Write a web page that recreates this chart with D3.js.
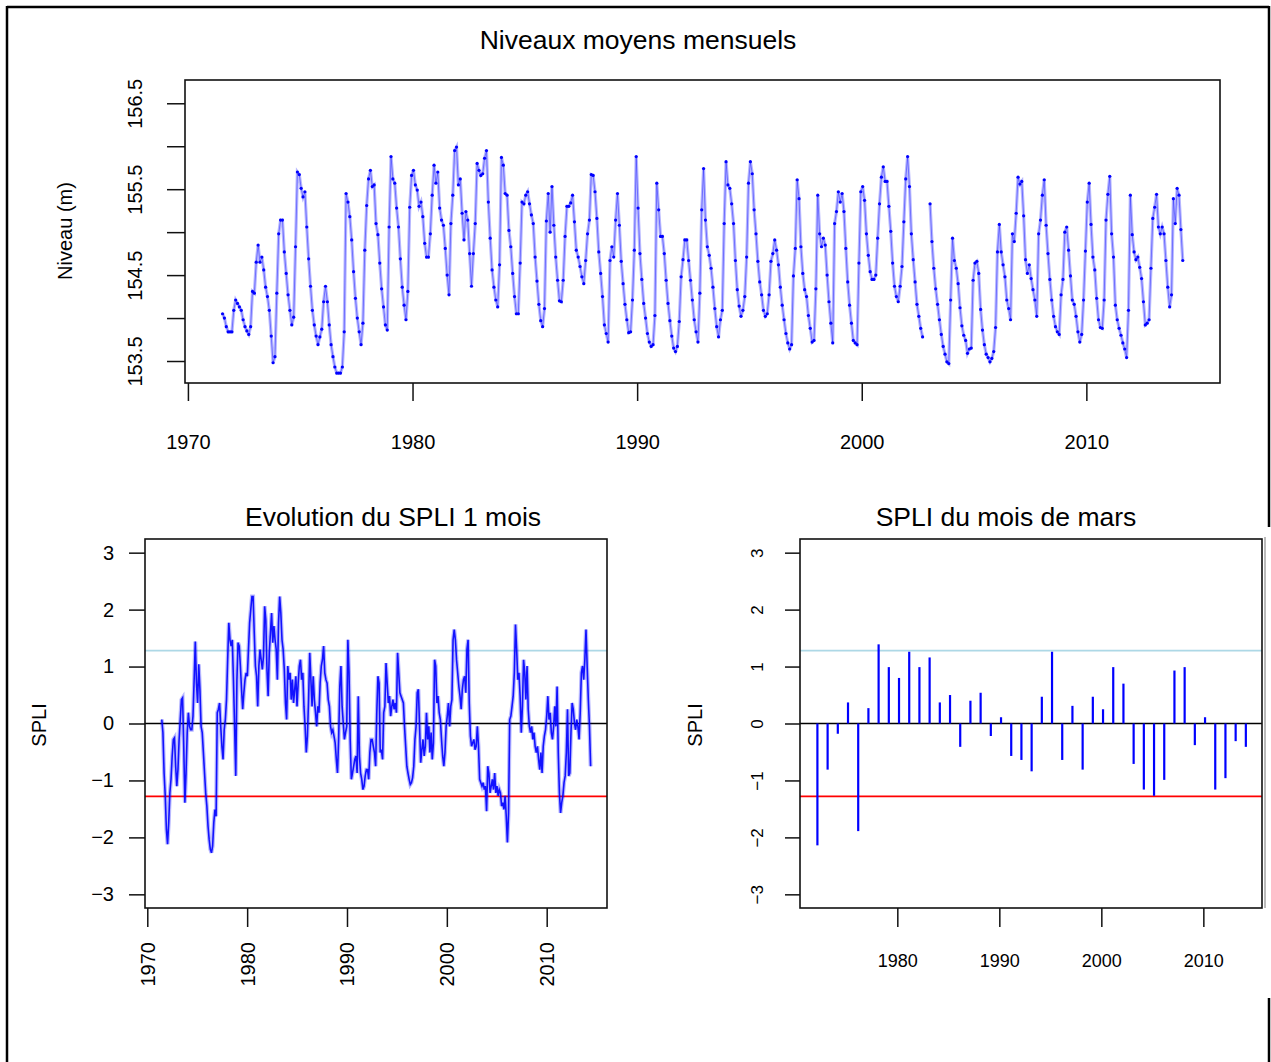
<!DOCTYPE html>
<html>
<head>
<meta charset="utf-8">
<script src="https://cdn.jsdelivr.net/npm/d3@7"></script>
<style>
body { margin: 0; background: #fff; }
text { font-family: "Liberation Sans", Arial, sans-serif; fill: #000; }
</style>
</head>
<body>
<div id="chart"></div>
<script>
var w = 1271;
var h = 1062;

// niveaux moyens mensuels (m), premier mois = juillet 1971, null = pas de mesure
var levelStart = 1971 + 6.5 / 12;
var levels = [
  154.05, 154.00, 153.90, 153.84, 153.84, 153.84,
  154.09, 154.21, 154.17, 154.13, 154.09, 153.98, 153.90, 153.85, 153.81, 153.90, 154.31, 154.29,
  154.65, 154.85, 154.65, 154.71, 154.56, 154.36, 154.25, 154.09, 153.79, 153.48, 153.55, 154.29,
  154.98, 155.14, 155.14, 154.77, 154.52, 154.27, 154.09, 153.92, 154.01, 154.83, 155.70, 155.67,
  155.51, 155.41, 155.47, 155.06, 154.69, 154.37, 154.09, 153.92, 153.79, 153.69, 153.78, 153.87,
  154.19, 154.37, 154.19, 153.92, 153.69, 153.55, 153.43, 153.36, 153.36, 153.36, 153.43, 153.84,
  155.45, 155.35, 155.18, 154.91, 154.54, 154.23, 154.00, 153.84, 153.69, 153.94, 154.79, 155.31,
  155.62, 155.72, 155.53, 155.55, 155.10, 154.97, 154.64, 154.34, 154.13, 153.92, 153.86, 155.06,
  155.88, 155.62, 155.57, 155.28, 155.06, 154.69, 154.36, 154.15, 153.98, 154.31, 155.29, 155.66,
  155.72, 155.55, 155.49, 155.30, 155.35, 155.18, 154.87, 154.71, 154.71, 154.98, 155.43, 155.78,
  155.57, 155.70, 155.28, 155.14, 155.08, 154.81, 154.50, 154.27, 155.10, 155.43, 155.95, 155.99,
  155.55, 155.62, 155.22, 154.91, 155.24, 155.14, 154.75, 154.37, 154.75, 155.10, 155.80, 155.72,
  155.66, 155.68, 155.86, 155.95, 155.35, 154.93, 154.56, 154.36, 154.21, 154.13, 154.62, 155.87,
  155.78, 155.45, 155.43, 155.02, 154.83, 154.52, 154.25, 154.05, 154.05, 154.64, 155.35, 155.33,
  155.43, 155.47, 155.33, 155.20, 155.10, 154.71, 154.43, 154.16, 153.97, 153.90, 154.11, 155.13,
  155.45, 155.00, 155.53, 155.08, 154.71, 154.44, 154.20, 154.19, 154.44, 154.95, 155.30, 155.30,
  155.34, 155.43, 155.12, 154.79, 154.71, 154.60, 154.48, 154.40, 154.67, 154.98, 155.14, 155.67,
  155.66, 155.47, 155.16, 154.77, 154.52, 154.25, 153.92, 153.82, 153.72, 154.67, 154.83, 154.71,
  155.14, 155.45, 155.08, 154.66, 154.40, 154.16, 153.98, 153.83, 153.84, 154.21, 154.79, 155.88,
  155.28, 154.75, 154.45, 154.17, 154.00, 153.82, 153.72, 153.67, 153.69, 154.03, 155.57, 155.26,
  154.95, 154.95, 154.75, 154.44, 154.17, 153.97, 153.79, 153.65, 153.61, 153.67, 153.96, 154.48,
  154.68, 154.91, 154.91, 154.67, 154.44, 154.21, 153.98, 153.84, 153.72, 154.29, 155.26, 155.74,
  155.14, 154.83, 154.73, 154.58, 154.36, 154.11, 153.90, 153.78, 153.98, 154.09, 155.10, 155.82,
  155.55, 155.51, 155.33, 155.10, 154.67, 154.33, 154.14, 154.02, 154.09, 154.25, 154.71, 155.57,
  155.82, 155.68, 155.26, 154.98, 154.66, 154.42, 154.27, 154.09, 154.02, 154.05, 154.27, 154.66,
  154.75, 154.91, 154.79, 154.62, 154.36, 154.15, 153.98, 153.82, 153.71, 153.64, 153.69, 154.49,
  154.81, 155.61, 155.39, 154.83, 154.52, 154.33, 154.25, 154.03, 153.88, 153.72, 153.74, 154.34,
  155.43, 154.98, 154.83, 154.93, 154.85, 154.50, 154.19, 153.94, 153.71, 155.10, 155.24, 155.47,
  155.35, 155.45, 155.24, 154.81, 154.42, 154.15, 153.94, 153.74, 153.71, 153.69, 154.64, 155.47,
  155.53, 155.37, 154.98, 154.73, 154.54, 154.45, 154.45, 154.50, 154.93, 155.33, 155.64, 155.76,
  155.59, 155.59, 155.30, 155.01, 154.64, 154.37, 154.25, 154.19, 154.37, 154.60, 155.12, 155.62,
  155.88, 155.53, 154.98, 154.68, 154.42, 154.16, 154.02, 153.88, 153.78, null, null, null,
  155.33, 154.89, 154.58, 154.34, 154.16, 153.98, 153.81, 153.67, 153.58, 153.49, 153.47, 154.21,
  154.93, 154.67, 154.58, 154.40, 154.12, 153.91, 153.80, 153.74, 153.59, 153.64, 153.65, 154.44,
  154.64, 154.66, 154.52, 154.10, 153.86, 153.69, 153.58, 153.54, 153.49, 153.53, 153.61, 153.89,
  154.77, 155.09, 154.77, 154.62, 154.48, 154.21, 154.11, 153.98, 154.98, 154.89, 155.22, 155.64,
  155.56, 155.59, 155.19, 154.68, 154.52, 154.62, 154.46, 154.33, 154.21, 154.02, 154.98, 155.14,
  155.43, 155.61, 155.08, 154.75, 154.45, 154.21, 154.02, 153.90, 153.84, 153.81, 154.27, 154.45,
  155.00, 155.06, 154.79, 154.49, 154.21, 154.16, 154.02, 153.84, 153.72, 153.81, 154.21, 154.78,
  155.35, 155.57, 155.09, 154.71, 154.56, 154.23, 153.98, 153.89, 153.88, 154.21, 155.14, 155.44,
  155.65, 154.98, 154.71, 154.15, 153.98, 153.88, 153.80, 153.71, 153.64, 153.54, 154.09, 155.43,
  154.97, 154.77, 154.68, 154.71, 154.59, 154.46, 154.19, 153.92, 153.94, 153.98, 154.58, 155.16,
  155.29, 155.44, 155.06, 154.98, 155.06, 154.98, 154.67, 154.36, 154.13, 154.27, 155.39, 155.10,
  155.51, 155.43, 155.03, 154.67
];

// SPLI 1 mois, lu sur une grille reguliere entre spliFrom et spliTo
var spliFrom = 1971.45;
var spliTo = 2014.4;
var spli = [
  0.07, -0.16, -0.87, -1.27, -1.86, -2.12, -1.74, -1.22, -0.98, -0.57, -0.28, -0.25, -0.75, -1.10, -0.81, -0.28,
  0.07, 0.42, 0.45, -0.40, -1.39, -0.87, -0.16, 0.19, -0.05, -0.11, -0.11, 0.13, 0.77, 1.44, 0.71, 0.36,
  1.04, 0.60, -0.05, -0.16, -0.51, -0.87, -1.22, -1.45, -1.80, -2.04, -2.21, -2.27, -2.15, -1.74, -1.51, -1.63,
  0.19, 0.25, 0.36, -0.05, -0.40, -0.63, -0.11, 0.07, 0.42, 1.12, 1.77, 1.47, 1.36, 1.47, 0.77, -0.05,
  -0.92, 0.77, 1.42, 1.36, 1.01, 0.60, 0.25, 0.54, 0.77, 0.89, 0.83, 1.30, 1.77, 2.00, 2.23, 2.23,
  1.59, 1.01, 0.83, 0.30, 1.01, 1.30, 1.12, 0.95, 1.18, 2.06, 1.82, 0.95, 0.48, 1.24, 1.59, 1.94,
  1.42, 1.71, 1.47, 1.30, 0.77, 1.77, 2.23, 1.94, 1.47, 1.30, 0.95, 0.36, 0.07, 1.01, 0.77, 0.89,
  0.42, 0.77, 0.36, 0.60, 0.83, 0.30, 0.71, 1.01, 1.12, 0.77, 0.89, 0.30, -0.05, -0.51, -0.22, 0.42,
  1.24, 0.77, 0.30, 0.83, 0.42, 0.19, -0.05, 0.30, 0.19, 0.71, 1.01, 1.12, 1.36, 0.89, 0.77, 0.71,
  0.42, 0.30, -0.05, -0.16, -0.11, -0.22, -0.34, -0.63, -0.87, -0.28, 0.65, 1.01, 0.30, 0.01, -0.28, -0.16,
  -0.05, 1.47, 0.89, -0.28, -0.98, -0.87, -0.75, -0.63, -0.57, -0.87, 0.48, -0.57, -0.87, -0.98, -1.16, -1.10,
  -0.92, -0.81, -0.81, -0.98, -0.51, -0.28, -0.28, -0.40, -0.51, -0.75, 0.19, 0.83, 0.71,
  -0.51, -0.46, -0.63, 0.19, 0.30, 1.06, 0.71, 0.36, 0.48, 0.13, 0.30, 0.42, 0.25, 0.36, 0.19, 1.24,
  0.89, 0.54, 0.48, 0.42, 0.36, -0.05, -0.40, -0.75, -0.87, -0.98, -1.07, -1.04, -0.95, -0.75, -0.28, -0.05,
  0.54, 0.60, -0.05, -0.69, -0.46, -0.28, -0.57, -0.40, 0.19, -0.28, -0.05, -0.51, -0.16, -0.63, -0.34, 1.12,
  1.01, 0.36, 0.48, 0.19, 0.07, -0.28, -0.57, -0.75, -0.51, -0.05, 0.13, 0.36, -0.05, 0.30, 0.42, 1.47,
  1.65, 1.47, 1.12, 0.89, 0.65, 0.48, 0.25, 0.60, 0.77, 0.83, 0.54, 1.30, 1.47, 0.36, -0.22, -0.40,
  -0.34, -0.28, -0.46, -0.40, -0.05, -0.40, -0.98, -1.04, -1.10, -1.04, -1.16, -1.10, -1.54, -0.75, -0.87, -1.22,
  -1.10, -0.98, -1.16, -0.87, -1.22, -1.10, -1.27, -1.16, -1.22, -1.45, -1.39, -1.51, -1.27, -1.63, -2.09, -1.57,
  0.07, 0.13, 0.30, 0.48, 0.89, 1.74, 1.30, 0.77, 0.89, 0.48, -0.16, 0.30, 1.12, 0.89, 0.42, 1.01,
  0.25, -0.05, -0.16, -0.05, -0.28, -0.16, -0.40, -0.51, -0.40, -0.63, -0.81, -0.51, -0.87, -0.40, -0.22, -0.11,
  0.13, 0.48, 0.07, 0.19, -0.16, -0.28, -0.05, 0.30, -0.05, 0.65, -0.51, -1.22, -1.57, -1.39, -1.27, -1.04,
  -0.92, -0.51, 0.25, -0.92, -0.87, -0.16, 0.36, 0.25, 0.01, -0.11, 0.07, -0.05, -0.28, 0.19, 0.89, 1.01,
  0.77, 1.12, 1.65, 1.01, 0.42, -0.05, -0.75
];

// SPLI du mois de mars
var marchYears = [1972, 1973, 1974, 1975, 1976, 1977, 1978, 1979, 1980, 1981, 1982, 1983, 1984, 1985,
  1986, 1987, 1988, 1989, 1990, 1991, 1992, 1993, 1994, 1995, 1996, 1997, 1998, 1999, 2000,
  2001, 2002, 2003, 2004, 2005, 2006, 2007, 2008, 2009, 2010, 2011, 2012, 2013, 2014];
var marchSpli = [-2.14, -0.81, -0.18, 0.37, -1.89, 0.27, 1.39, 0.99, 0.80, 1.26, 0.99, 1.16, 0.37, 0.50,
  -0.41, 0.40, 0.54, -0.22, 0.11, -0.57, -0.64, -0.84, 0.47, 1.26, -0.64, 0.31, -0.81, 0.47, 0.25,
  0.99, 0.70, -0.71, -1.16, -1.27, -0.99, 0.93, 0.99, -0.38, 0.11, -1.16, -0.96, -0.31, -0.41];

var wetLimit = 1.28;
var dryLimit = -1.28;
var levelTicks = [153.5, 154, 154.5, 155, 155.5, 156, 156.5];
var levelTickLabels = ["153.5", "", "154.5", "", "155.5", "", "156.5"];
var decades = [1970, 1980, 1990, 2000, 2010];
var marchDecades = [1980, 1990, 2000, 2010];
var spliTicks = [-3, -2, -1, 0, 1, 2, 3];

var svg = d3.select("#chart")
            .append("svg")
            .attr("width", w)
            .attr("height", h);

svg.append("rect").attr("width", w).attr("height", h).attr("fill", "#fff");

// cadre exterieur
var frame = svg.append("g").attr("stroke", "#000").attr("stroke-width", 2.5);
frame.append("line").attr("x1", 7).attr("x2", 1269).attr("y1", 7).attr("y2", 7);
frame.append("line").attr("x1", 7).attr("x2", 7).attr("y1", 6).attr("y2", h);
frame.append("line").attr("x1", 1269).attr("x2", 1269).attr("y1", 6).attr("y2", 527);
frame.append("line").attr("x1", 1269).attr("x2", 1269).attr("y1", 998).attr("y2", h);

function styleAxis(g) {
  g.attr("font-size", null).attr("font-family", null);
  g.select(".domain").remove();
  g.selectAll(".tick line").attr("stroke", "#111").attr("stroke-width", 1.5);
  g.selectAll(".tick text").attr("font-size", "20px").attr("fill", "#000");
}

function box(x0, y0, x1, y1) {
  svg.append("rect")
    .attr("x", x0).attr("y", y0)
    .attr("width", x1 - x0).attr("height", y1 - y0)
    .attr("fill", "none")
    .attr("stroke", "#111")
    .attr("stroke-width", 1.6);
}

function rotatedLabel(x, y, txt) {
  svg.append("text")
    .attr("transform", "translate(" + x + "," + y + ") rotate(-90)")
    .attr("text-anchor", "middle")
    .attr("font-size", "20px")
    .text(txt);
}

/* ---------- niveaux moyens mensuels ---------- */
var xTop = d3.scaleLinear().domain([1969.87, 2015.95]).range([185, 1220]);
var yTop = d3.scaleLinear().domain([153.244, 156.771]).range([383, 80]);

var levelData = levels.map(function(v, i) { return { t: levelStart + i / 12, v: v }; });

var levelLine = d3.line()
                  .defined(function(d) { return d.v !== null; })
                  .x(function(d) { return xTop(d.t); })
                  .y(function(d) { return yTop(d.v); });

svg.append("path")
  .datum(levelData)
  .attr("d", levelLine)
  .attr("fill", "none")
  .attr("stroke", "#0000ff")
  .attr("stroke-opacity", 0.28)
  .attr("stroke-width", 3.2);

svg.append("path")
  .datum(levelData)
  .attr("d", levelLine)
  .attr("fill", "none")
  .attr("stroke", "#0000ff")
  .attr("stroke-opacity", 0.4)
  .attr("stroke-width", 1);

svg.selectAll("circle.lvl")
  .data(levelData.filter(function(d) { return d.v !== null; }))
  .enter()
  .append("circle")
  .attr("class", "lvl")
  .attr("cx", function(d) { return xTop(d.t); })
  .attr("cy", function(d) { return yTop(d.v); })
  .attr("r", 1.6)
  .attr("fill", "#0000ff");

box(185, 80, 1220, 383);

svg.append("g")
  .attr("transform", "translate(185,0)")
  .call(d3.axisLeft(yTop).tickValues(levelTicks).tickSize(18)
          .tickFormat(function(d, i) { return levelTickLabels[i]; }))
  .call(styleAxis)
  .selectAll(".tick text")
  .attr("x", null).attr("dy", null)
  .attr("text-anchor", "middle")
  .attr("transform", "translate(-43.5,0) rotate(-90)");

svg.append("g")
  .attr("transform", "translate(0,383)")
  .call(d3.axisBottom(xTop).tickValues(decades).tickSize(18).tickFormat(d3.format("d")))
  .call(styleAxis)
  .selectAll(".tick text")
  .attr("dy", null)
  .attr("y", 66);

svg.append("text")
  .attr("x", 638).attr("y", 49)
  .attr("text-anchor", "middle")
  .attr("font-size", "26.5px")
  .text("Niveaux moyens mensuels");

rotatedLabel(72, 231, "Niveau (m)");

/* ---------- SPLI 1 mois ---------- */
var xL = d3.scaleLinear().domain([1969.77, 2016.04]).range([145, 607]);
var yS = d3.scaleLinear().domain([-3.24, 3.24]).range([908, 539]);

var spliStep = (spliTo - spliFrom) / (spli.length - 1);
var spliData = spli.map(function(v, i) { return { t: spliFrom + i * spliStep, v: v }; });

var spliLine = d3.line()
                 .x(function(d) { return xL(d.t); })
                 .y(function(d) { return yS(d.v); });

function refLines(x0, x1) {
  svg.append("line").attr("x1", x0).attr("x2", x1)
    .attr("y1", yS(wetLimit)).attr("y2", yS(wetLimit))
    .attr("stroke", "#add8e6").attr("stroke-width", 1.6);
  svg.append("line").attr("x1", x0).attr("x2", x1)
    .attr("y1", yS(dryLimit)).attr("y2", yS(dryLimit))
    .attr("stroke", "#ff0000").attr("stroke-width", 1.6);
  svg.append("line").attr("x1", x0).attr("x2", x1)
    .attr("y1", yS(0)).attr("y2", yS(0))
    .attr("stroke", "#000").attr("stroke-width", 1.6);
}

refLines(145, 607);

svg.append("path")
  .datum(spliData)
  .attr("d", spliLine)
  .attr("fill", "none")
  .attr("stroke", "#0000ff")
  .attr("stroke-opacity", 0.28)
  .attr("stroke-width", 4);

svg.append("path")
  .datum(spliData)
  .attr("d", spliLine)
  .attr("fill", "none")
  .attr("stroke", "#0000ff")
  .attr("stroke-opacity", 0.9)
  .attr("stroke-width", 1.6);

box(145, 539, 607, 908);

svg.append("g")
  .attr("transform", "translate(145,0)")
  .call(d3.axisLeft(yS).tickValues(spliTicks).tickSize(16)
          .tickFormat(function(d) { return d < 0 ? "\u2212" + (-d) : String(d); }))
  .call(styleAxis)
  .selectAll(".tick text")
  .attr("x", -31);

svg.append("g")
  .attr("transform", "translate(0,908)")
  .call(d3.axisBottom(xL).tickValues(decades).tickSize(19).tickFormat(d3.format("d")))
  .call(styleAxis)
  .selectAll(".tick text")
  .attr("y", null).attr("dy", null)
  .attr("text-anchor", "end")
  .attr("transform", "translate(7,34) rotate(-90)");

svg.append("text")
  .attr("x", 393).attr("y", 526)
  .attr("text-anchor", "middle")
  .attr("font-size", "26.5px")
  .text("Evolution du SPLI 1 mois");

rotatedLabel(45.5, 725, "SPLI");

/* ---------- SPLI du mois de mars ---------- */
var xR = d3.scaleLinear().domain([1970.46, 2015.75]).range([800, 1262]);

svg.append("line")
  .attr("x1", 1265).attr("x2", 1265).attr("y1", 537).attr("y2", 908)
  .attr("stroke", "#bbb").attr("stroke-width", 2);

refLines(800, 1262);

svg.selectAll("line.bar")
  .data(marchSpli)
  .enter()
  .append("line")
  .attr("class", "bar")
  .attr("x1", function(d, i) { return xR(marchYears[i] + 2 / 12); })
  .attr("x2", function(d, i) { return xR(marchYears[i] + 2 / 12); })
  .attr("y1", yS(0))
  .attr("y2", function(d) { return yS(d); })
  .attr("stroke", "#0000ff")
  .attr("stroke-width", 2.2);

box(800, 539, 1262, 908);

svg.append("g")
  .attr("transform", "translate(800,0)")
  .call(d3.axisLeft(yS).tickValues(spliTicks).tickSize(15)
          .tickFormat(function(d) { return d < 0 ? "\u2212" + (-d) : String(d); }))
  .call(styleAxis)
  .selectAll(".tick text")
  .attr("x", null).attr("dy", null)
  .attr("text-anchor", "middle")
  .attr("font-size", "17px")
  .attr("transform", "translate(-37,0) rotate(-90)");

svg.append("g")
  .attr("transform", "translate(0,908)")
  .call(d3.axisBottom(xR).tickValues(marchDecades).tickSize(19).tickFormat(d3.format("d")))
  .call(styleAxis)
  .selectAll(".tick text")
  .attr("dy", null)
  .attr("y", 59)
  .attr("font-size", "18px");

svg.append("text")
  .attr("x", 1006).attr("y", 526)
  .attr("text-anchor", "middle")
  .attr("font-size", "26.5px")
  .text("SPLI du mois de mars");

rotatedLabel(702, 725, "SPLI");
</script>
</body>
</html>
